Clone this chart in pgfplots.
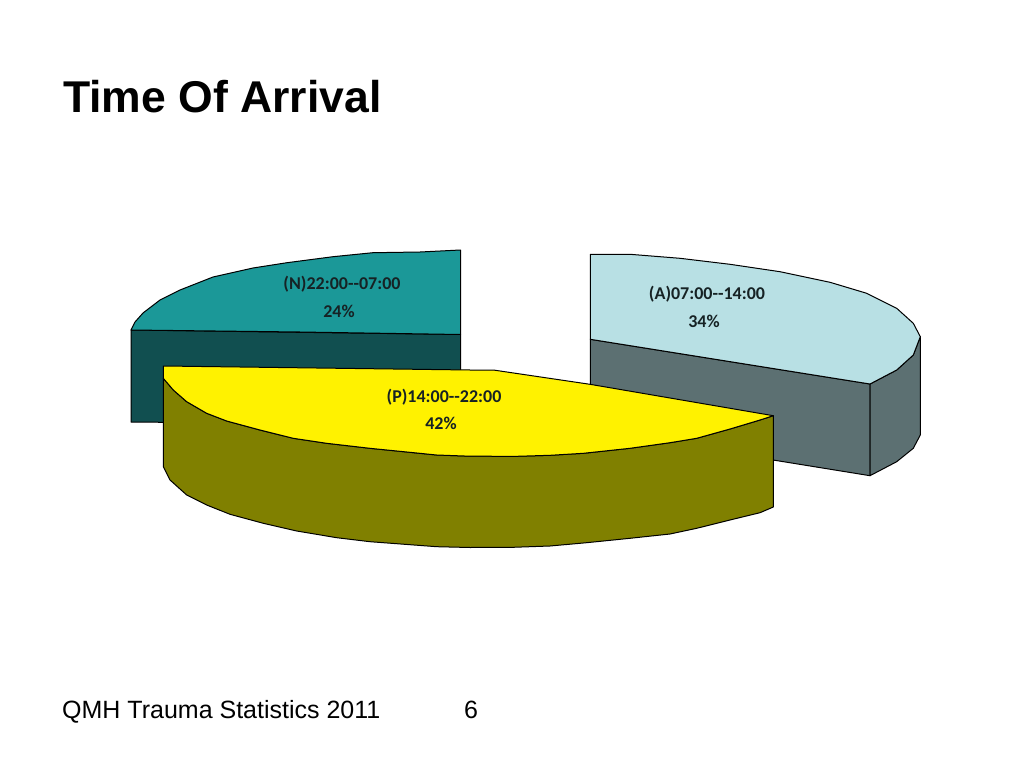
\documentclass[border=0pt]{standalone}
\usepackage{fontspec}
\setmainfont{Liberation Sans}
\newfontfamily\labelfont{Carlito}
\usepackage{pgfplots}
\pgfplotsset{compat=1.18}

\definecolor{tealtop}{RGB}{27,152,152}
\definecolor{tealside}{RGB}{17,79,80}
\definecolor{bluetop}{RGB}{184,224,228}
\definecolor{blueside}{RGB}{92,112,114}
\definecolor{olive2}{RGB}{128,128,0}
\definecolor{labelink}{RGB}{22,34,36}

\tikzset{slice label/.style={font=\labelfont\bfseries\fontsize{18}{18}\selectfont, text=labelink, inner sep=0pt, anchor=base}}

\begin{document}
\begin{tikzpicture}
\begin{axis}[
    scale only axis,
    width=1020pt, height=765pt,
    xmin=0, xmax=1020, ymin=0, ymax=765,
    y dir=reverse,
    hide axis,
    clip=false,
    every axis plot/.append style={no markers, sharp plot, draw=black, line width=1pt, line join=round},
]
% page background keeps the bounding box at the full slide
\addplot[draw=white, line width=0pt, fill=white] coordinates {(0,0)(1020,0)(1020,765)(0,765)} -- cycle;

% (N) slice
\addplot[fill=tealside] coordinates {(131,330)(460.5,334.5)(460.5,425)(131,422)} -- cycle;
\addplot[fill=tealtop] coordinates {
    (460.5,250)(420,252)(373,252.7)(333,256.7)(287,262.7)(253,268)(213,277)(180,290)
    (160,300)(143,313)(135,322)(131,330)(300,332)(460.5,334.5)} -- cycle;

% (A) slice
\addplot[fill=blueside] coordinates {(590.3,339.3)(870,384)(870,475.7)(773,460)(590.3,430)} -- cycle;
\addplot[fill=blueside] coordinates {
    (870,384)(896.7,370)(913.3,355)(920.3,336.7)(920.3,435)(913.3,448.3)(896.7,461.7)(870,475.7)} -- cycle;
\addplot[fill=bluetop] coordinates {
    (590.3,254.3)(630,254.3)(680,258.3)(730,264.3)(780,271.7)(830,282.3)(866.7,293.3)
    (896.7,308.3)(913.3,323.3)(920.3,336.7)(913.3,355)(896.7,370)(870,384)(590.3,339.3)} -- cycle;

% (P) slice
\addplot[fill=olive2] coordinates {
    (163.3,378.3)(163.3,466.7)(170,480)(186.7,495)(206.7,505)(230,514.3)(263.3,523.3)(296.7,531)
    (336.7,537.7)(370,541.7)(436.7,546.7)(470,547.5)(513,547.3)(550,546)(586.7,542.7)(630,538.3)
    (670,534)(696.7,528.3)(730,520)(760,512.7)(773.3,507)(773.3,415.7)
    (760,420)(730,429)(696.7,438.3)(670,442.7)(630,448.3)(583.3,453.3)(550,455.3)(516.7,456.3)
    (470,456.2)(436.7,455)(370,448.3)(326.7,443.3)(293.3,438.3)(260,430)(226.7,421)(206.7,413.3)
    (186.7,401.7)(173.3,390)} -- cycle;
\addplot[fill=yellow] coordinates {
    (163.3,366)(470,370)(493.3,370)(590,384.3)(773.3,415.7)
    (760,420)(730,429)(696.7,438.3)(670,442.7)(630,448.3)(583.3,453.3)(550,455.3)(516.7,456.3)
    (470,456.2)(436.7,455)(370,448.3)(326.7,443.3)(293.3,438.3)(260,430)(226.7,421)(206.7,413.3)
    (186.7,401.7)(173.3,390)(163.3,378.3)} -- cycle;

% slice labels
\node[slice label] at (axis cs:342,289) {(N)22:00--07:00};
\node[slice label] at (axis cs:339,317) {24\%};
\node[slice label] at (axis cs:707,299) {(A)07:00--14:00};
\node[slice label] at (axis cs:704,327) {34\%};
\node[slice label] at (axis cs:444,402) {(P)14:00--22:00};
\node[slice label] at (axis cs:441,429) {42\%};

% slide text
\node[anchor=base west, inner sep=0pt, font=\bfseries\fontsize{44.5}{44.5}\selectfont] at (axis cs:63,113) {Time Of Arrival};
\node[anchor=base west, inner sep=0pt, font=\fontsize{25}{25}\selectfont] at (axis cs:62,718) {QMH Trauma Statistics 2011};
\node[anchor=base west, inner sep=0pt, font=\fontsize{25}{25}\selectfont] at (axis cs:464,718) {6};
\end{axis}
\end{tikzpicture}
\end{document}
